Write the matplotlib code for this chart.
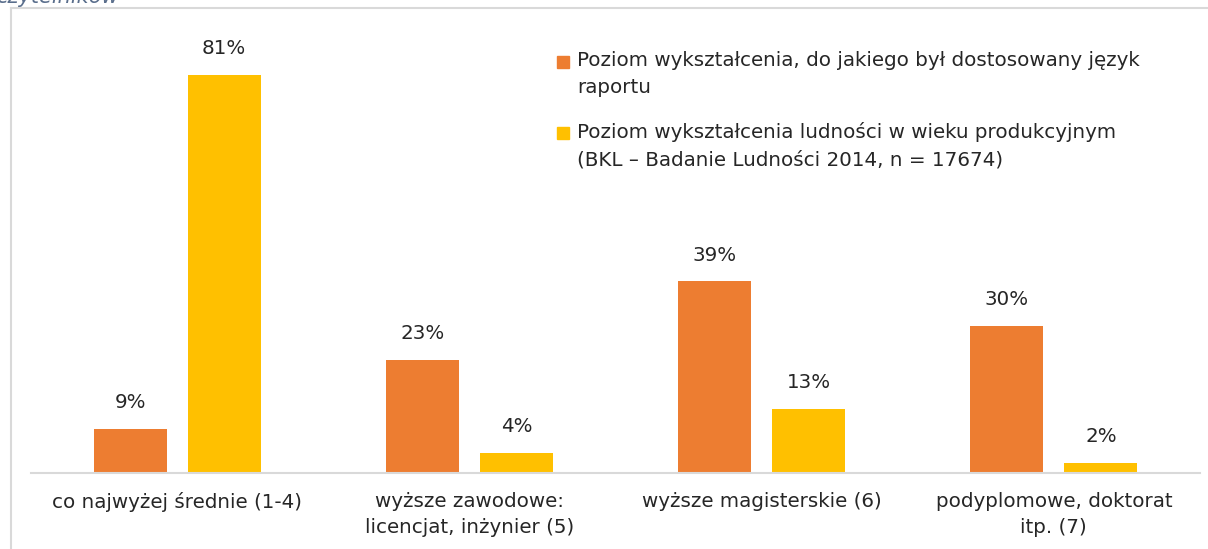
import numpy as np
import matplotlib
matplotlib.use('Agg')
import matplotlib.pyplot as plt
from matplotlib.patches import Rectangle

categories = ['co najwyżej średnie (1-4)',
              'wyższe zawodowe:\nlicencjat, inżynier (5)',
              'wyższe magisterskie (6)',
              'podyplomowe, doktorat\nitp. (7)']
report_level = [9, 23, 39, 30]
population_level = [81, 4, 13, 2]
series_names = ['Poziom wykształcenia, do jakiego był dostosowany język\nraportu',
                'Poziom wykształcenia ludności w wieku produkcyjnym\n(BKL – Badanie Ludności 2014, n = 17674)']

ORANGE = '#ED7D31'
YELLOW = '#FFC000'
TEXT = '#262626'
FS = 14.3

plt.rcParams['font.family'] = ['DejaVu Sans']

W, H = 1208, 549
fig = plt.figure(figsize=(W / 100, H / 100), dpi=100)
ax = fig.add_axes([31 / W, 1 - 473 / H, (1200 - 31) / W, 442 / H])

x = np.arange(len(categories))
bw = 0.25
off = 0.161
b1 = ax.bar(x - off, report_level, bw, color=ORANGE)
b2 = ax.bar(x + off, population_level, bw, color=YELLOW)

for bars, vals in ((b1, report_level), (b2, population_level)):
    for bar, v in zip(bars, vals):
        ax.annotate(f'{v}%', (bar.get_x() + bar.get_width() / 2, v),
                    xytext=(0, 19), textcoords='offset points',
                    ha='center', va='center', fontsize=FS, color=TEXT)

ax.set_xlim(-0.5, len(categories) - 0.5)
ax.set_ylim(0, 90)
ax.set_yticks([])
ax.set_xticks(x)
ax.set_xticklabels(categories, fontsize=FS, color=TEXT, linespacing=1.45)
ax.tick_params(axis='x', length=0, pad=14)
for s in ('top', 'right', 'left'):
    ax.spines[s].set_visible(False)
ax.spines['bottom'].set_color('#d9d9d9')
ax.spines['bottom'].set_linewidth(1.5)

# legend drawn by hand so the square sits on the first line
leg_y = [62, 133]
for name, col, yy in zip(series_names, (ORANGE, YELLOW), leg_y):
    fig.patches.append(Rectangle((557 / W, 1 - (yy + 6) / H), 12 / W, 12 / H,
                                 transform=fig.transFigure, color=col))
    fig.text(577 / W, 1 - (yy - 11) / H, name, fontsize=FS, color=TEXT,
             va='top', ha='left', linespacing=1.55)

# outer frame and the cut-off caption above it
fig.add_artist(plt.Line2D([11 / W, 11 / W], [0, 1 - 8 / H], color='#d9d9d9', lw=1.5,
                          transform=fig.transFigure))
fig.add_artist(plt.Line2D([11 / W, 1], [1 - 8 / H, 1 - 8 / H], color='#d9d9d9', lw=1.5,
                          transform=fig.transFigure))
fig.text(-4 / W, 1 + 4 / H, 'czytelników', fontsize=15, style='italic',
         color='#5a6e8c', va='center', ha='left')

fig.savefig('out.png', dpi=100)
